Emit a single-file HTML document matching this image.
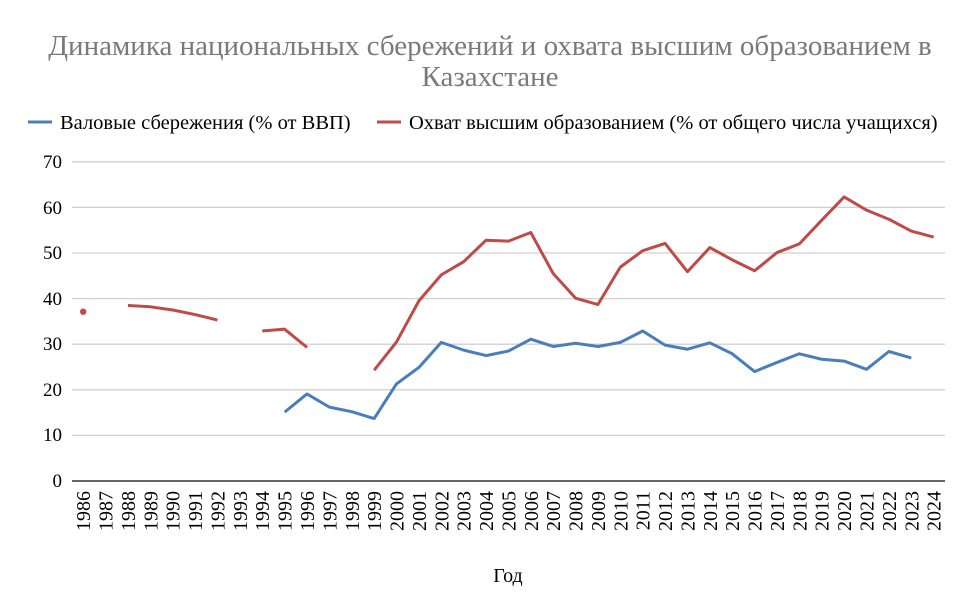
<!DOCTYPE html>
<html><head><meta charset="utf-8"><style>
body{margin:0;background:#fff}
svg{display:block;font-family:"Liberation Serif",serif}
</style></head><body>
<svg width="975" height="615" viewBox="0 0 975 615" xmlns="http://www.w3.org/2000/svg">
<text x="490" y="55" text-anchor="middle" font-size="29" fill="#7a7a7a">Динамика национальных сбережений и охвата высшим образованием в</text>
<text x="490" y="86" text-anchor="middle" font-size="29" fill="#7a7a7a">Казахстане</text>
<line x1="28" y1="122" x2="52" y2="122" stroke="#4a7ebb" stroke-width="3"/>
<text x="60" y="129" font-size="20.5" fill="#000">Валовые сбережения (% от ВВП)</text>
<line x1="377" y1="122" x2="401" y2="122" stroke="#be4b48" stroke-width="3"/>
<text x="409" y="129" font-size="20.5" fill="#000">Охват высшим образованием (% от общего числа учащихся)</text>
<g stroke="#d0d0d0" stroke-width="1.3">
<line x1="72" x2="945" y1="161.8" y2="161.8"/><line x1="72" x2="945" y1="207.4" y2="207.4"/>
<line x1="72" x2="945" y1="253" y2="253"/><line x1="72" x2="945" y1="298.6" y2="298.6"/>
<line x1="72" x2="945" y1="344.2" y2="344.2"/><line x1="72" x2="945" y1="389.8" y2="389.8"/>
<line x1="72" x2="945" y1="435.4" y2="435.4"/>
</g>
<line x1="72" x2="945" y1="481" y2="481" stroke="#333" stroke-width="1.5"/>
<g font-size="19" text-anchor="end" fill="#000">
<text x="62" y="168">70</text><text x="62" y="214">60</text><text x="62" y="259">50</text>
<text x="62" y="305">40</text><text x="62" y="350">30</text><text x="62" y="396">20</text>
<text x="62" y="441">10</text><text x="62" y="487">0</text>
</g>
<g font-size="20" text-anchor="end" fill="#000">
<text transform="translate(90.2,491) rotate(-90)">1986</text>
<text transform="translate(112.6,491) rotate(-90)">1987</text>
<text transform="translate(135,491) rotate(-90)">1988</text>
<text transform="translate(157.3,491) rotate(-90)">1989</text>
<text transform="translate(179.7,491) rotate(-90)">1990</text>
<text transform="translate(202.1,491) rotate(-90)">1991</text>
<text transform="translate(224.5,491) rotate(-90)">1992</text>
<text transform="translate(246.9,491) rotate(-90)">1993</text>
<text transform="translate(269.2,491) rotate(-90)">1994</text>
<text transform="translate(291.6,491) rotate(-90)">1995</text>
<text transform="translate(314,491) rotate(-90)">1996</text>
<text transform="translate(336.4,491) rotate(-90)">1997</text>
<text transform="translate(358.8,491) rotate(-90)">1998</text>
<text transform="translate(381.1,491) rotate(-90)">1999</text>
<text transform="translate(403.5,491) rotate(-90)">2000</text>
<text transform="translate(425.9,491) rotate(-90)">2001</text>
<text transform="translate(448.3,491) rotate(-90)">2002</text>
<text transform="translate(470.7,491) rotate(-90)">2003</text>
<text transform="translate(493,491) rotate(-90)">2004</text>
<text transform="translate(515.4,491) rotate(-90)">2005</text>
<text transform="translate(537.8,491) rotate(-90)">2006</text>
<text transform="translate(560.2,491) rotate(-90)">2007</text>
<text transform="translate(582.6,491) rotate(-90)">2008</text>
<text transform="translate(604.9,491) rotate(-90)">2009</text>
<text transform="translate(627.3,491) rotate(-90)">2010</text>
<text transform="translate(649.7,491) rotate(-90)">2011</text>
<text transform="translate(672.1,491) rotate(-90)">2012</text>
<text transform="translate(694.5,491) rotate(-90)">2013</text>
<text transform="translate(716.8,491) rotate(-90)">2014</text>
<text transform="translate(739.2,491) rotate(-90)">2015</text>
<text transform="translate(761.6,491) rotate(-90)">2016</text>
<text transform="translate(784,491) rotate(-90)">2017</text>
<text transform="translate(806.4,491) rotate(-90)">2018</text>
<text transform="translate(828.7,491) rotate(-90)">2019</text>
<text transform="translate(851.1,491) rotate(-90)">2020</text>
<text transform="translate(873.5,491) rotate(-90)">2021</text>
<text transform="translate(895.9,491) rotate(-90)">2022</text>
<text transform="translate(918.3,491) rotate(-90)">2023</text>
<text transform="translate(940.6,491) rotate(-90)">2024</text>
</g>
<text x="508" y="582" text-anchor="middle" font-size="20">Год</text>
<circle cx="83.2" cy="311.7" r="3.2" fill="#be4b48"/>
<g transform="translate(83.2,481) scale(22.38,-4.56)" fill="none" stroke-width="3" stroke-linejoin="round">
<g stroke="#be4b48">
<polyline vector-effect="non-scaling-stroke" points="2,38.5 3,38.2 4,37.5 5,36.5 6,35.3"/>
<polyline vector-effect="non-scaling-stroke" points="8,32.9 9,33.3 10,29.3"/>
<polyline vector-effect="non-scaling-stroke" points="13,24.3 14,30.5 15,39.5 16,45.2 17,48.1 18,52.8 19,52.6 20,54.5 21,45.5 22,40.1 23,38.7 24,46.9 25,50.5 26,52.1 27,45.9 28,51.2 29,48.5 30,46.1 31,50.1 32,52.0 33,57.2 34,62.3 35,59.4 36,57.4 37,54.8 38,53.5"/>
</g>
<polyline stroke="#4a7ebb" vector-effect="non-scaling-stroke" points="9,15.1 10,19.1 11,16.2 12,15.2 13,13.7 14,21.3 15,24.9 16,30.4 17,28.7 18,27.5 19,28.5 20,31.1 21,29.5 22,30.2 23,29.5 24,30.4 25,32.9 26,29.8 27,28.9 28,30.3 29,27.9 30,24.0 31,26.0 32,27.9 33,26.7 34,26.3 35,24.5 36,28.4 37,27.0"/>
</g>
</svg>
</body></html>
